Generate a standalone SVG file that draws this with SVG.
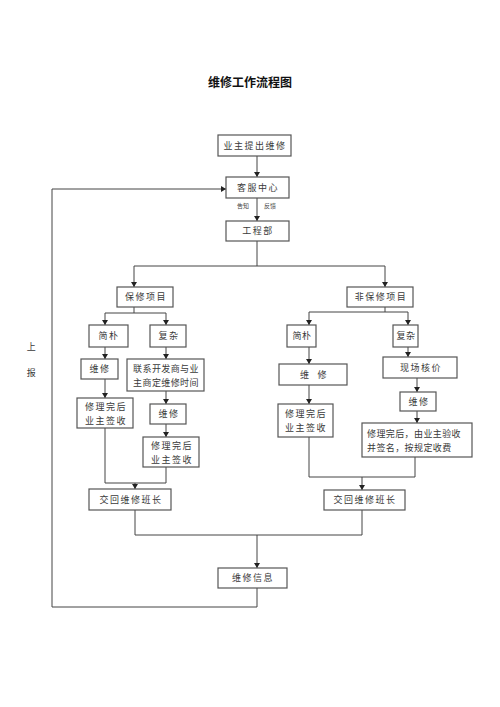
<svg xmlns="http://www.w3.org/2000/svg" width="500" height="707" viewBox="0 0 500 707">
<defs>
<marker id="ah" markerWidth="5" markerHeight="6" refX="5" refY="3" orient="auto" markerUnits="userSpaceOnUse">
<path d="M0,0 L5,3 L0,6 Z" fill="#222"/>
</marker>
<style>
.b{fill:#fff;stroke:#555;stroke-width:1.2}
.t{font-family:"Noto Sans CJK SC","Liberation Serif",serif;font-size:9px;fill:#3a3a3a;text-anchor:middle;letter-spacing:1.5px}
.n{letter-spacing:0.4px}
.l{text-anchor:start}
.s{font-family:"Noto Sans CJK SC","Liberation Serif",serif;font-size:6px;fill:#444;text-anchor:middle}
.c{fill:none;stroke:#444;stroke-width:1}
.a{marker-end:url(#ah)}
</style>
</defs>
<rect width="500" height="707" fill="#fff"/>
<text x="250" y="87" font-family="'Noto Sans CJK SC',sans-serif" font-size="12" font-weight="bold" text-anchor="middle" fill="#111">维修工作流程图</text>

<g id="connectors">
<path class="c a" d="M257,156 V177"/>
<path class="c" d="M257,198 V221" marker-start="url(#ah)" marker-end="url(#ah)"/>
<path class="c" d="M257,241 V266 M134,266 H385"/>
<path class="c a" d="M134,266 V287"/>
<path class="c a" d="M385,266 V287"/>
<path class="c" d="M134,307 V313 H166 M105,313 H134"/>
<path class="c a" d="M105,313 V325"/>
<path class="c a" d="M166,313 V325"/>
<path class="c a" d="M105,347 V359"/>
<path class="c a" d="M166,347 V359"/>
<path class="c a" d="M166,391 V404"/>
<path class="c a" d="M105,379 V398"/>
<path class="c a" d="M166,424 V437"/>
<path class="c" d="M105,428 V483 H166 V467"/>
<path class="c a" d="M135,483 V489"/>
<path class="c" d="M385,307 V312 M309,312 H408"/>
<path class="c a" d="M309,312 V325"/>
<path class="c a" d="M408,312 V325"/>
<path class="c a" d="M309,347 V364"/>
<path class="c a" d="M408,347 V357"/>
<path class="c a" d="M309,385 V404"/>
<path class="c a" d="M417,378 V392"/>
<path class="c a" d="M417,411 V423"/>
<path class="c" d="M309,437 V477 H415 V457"/>
<path class="c a" d="M362,477 V490"/>
<path class="c" d="M135,510 V535 H362 V510"/>
<path class="c a" d="M257,535 V568"/>
<path class="c a" d="M257,588 V607 H52 V189 H226"/>
</g>

<g id="n1"><rect class="b" x="218" y="135" width="73" height="21"/><text class="t" x="255" y="149">业主提出维修</text></g>
<g id="n2"><rect class="b" x="226" y="177" width="63" height="21"/><text class="t" x="258" y="191">客服中心</text></g>
<g id="lbl1"><text class="s" x="243" y="208">告知</text><text class="s" x="270" y="208">反馈</text></g>
<g id="n3"><rect class="b" x="226" y="221" width="63" height="20"/><text class="t" x="258" y="234">工程部</text></g>
<g id="n4"><rect class="b" x="117" y="287" width="56" height="20"/><text class="t" x="146" y="300">保修项目</text></g>
<g id="n5"><rect class="b" x="347" y="287" width="66" height="20"/><text class="t" x="381" y="300">非保修项目</text></g>
<g id="n6"><rect class="b" x="89" y="325" width="39" height="22"/><text class="t" x="109" y="339">简朴</text></g>
<g id="n7"><rect class="b" x="150" y="325" width="36" height="22"/><text class="t" x="169" y="339">复杂</text></g>
<g id="n8"><rect class="b" x="81" y="359" width="37" height="20"/><text class="t" x="100" y="372">维修</text></g>
<g id="n9"><rect class="b" x="127" y="359" width="77" height="32"/><text class="t n" x="166" y="372">联系开发商与业</text><text class="t n" x="166" y="386">主商定维修时间</text></g>
<g id="n10"><rect class="b" x="77" y="398" width="56" height="30"/><text class="t" x="106" y="410">修理完后</text><text class="t" x="106" y="424">业主签收</text></g>
<g id="n11"><rect class="b" x="150" y="404" width="36" height="20"/><text class="t" x="169" y="417">维修</text></g>
<g id="n12"><rect class="b" x="143" y="437" width="56" height="30"/><text class="t" x="172" y="449">修理完后</text><text class="t" x="172" y="463">业主签收</text></g>
<g id="n13"><rect class="b" x="89" y="489" width="82" height="21"/><text class="t" x="131" y="503">交回维修班长</text></g>
<g id="n14"><rect class="b" x="287" y="325" width="29" height="22"/><text class="t n" x="302" y="339">简朴</text></g>
<g id="n15"><rect class="b" x="393" y="325" width="25" height="22"/><text class="t n" x="406" y="339">复杂</text></g>
<g id="n16"><rect class="b" x="279" y="364" width="68" height="21"/><text class="t" x="314" y="378" xml:space="preserve">维  修</text></g>
<g id="n17"><rect class="b" x="383" y="357" width="74" height="21"/><text class="t" x="421" y="371">现场核价</text></g>
<g id="n18"><rect class="b" x="278" y="404" width="55" height="33"/><text class="t" x="306" y="417">修理完后</text><text class="t" x="306" y="431">业主签收</text></g>
<g id="n19"><rect class="b" x="400" y="392" width="36" height="19"/><text class="t" x="419" y="405">维修</text></g>
<g id="n20"><rect class="b" x="362" y="423" width="110" height="34"/><text class="t n l" x="367" y="437">修理完后，由业主验收</text><text class="t n l" x="367" y="451">并签名，按规定收费</text></g>
<g id="n21"><rect class="b" x="324" y="490" width="81" height="20"/><text class="t" x="365" y="503">交回维修班长</text></g>
<g id="n22"><rect class="b" x="218" y="568" width="69" height="20"/><text class="t" x="253" y="581">维修信息</text></g>
<g id="lbl2"><text class="t" x="32" y="350">上</text><text class="t" x="32" y="376">报</text></g>
</svg>
